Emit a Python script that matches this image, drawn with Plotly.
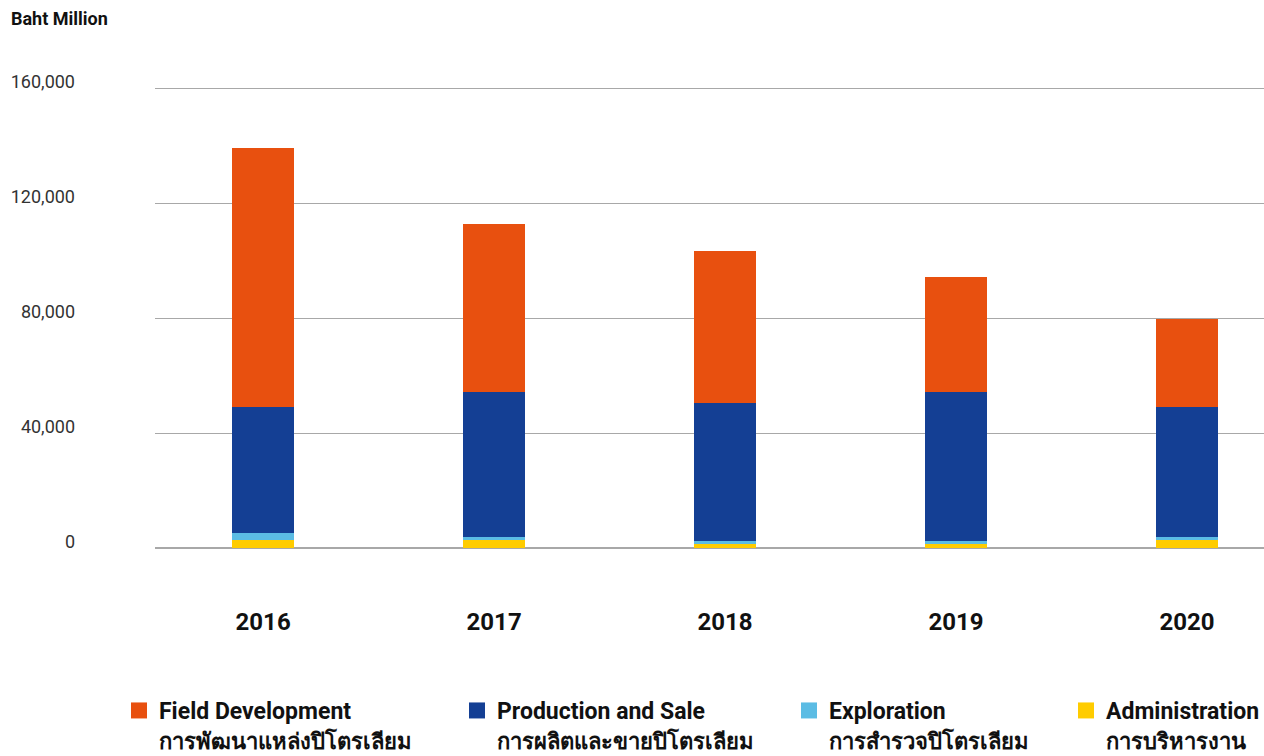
import plotly.graph_objects as go

years = ["2016", "2017", "2018", "2019", "2020"]
administration = [2800, 2800, 1500, 1500, 2800]
exploration = [2400, 1000, 900, 900, 1000]
production = [43800, 50460, 48000, 51860, 45200]
field_dev = [90100, 58440, 52900, 40000, 30650]

def lbl(en, th):
    return f"<b>{en}<br><span style='font-size:22px'>{th}</span></b>"

series = [
    (lbl("Administration", "การบริหารงาน"), administration, "#FFCC00", "legend4"),
    (lbl("Exploration", "การสำรวจปิโตรเลียม"), exploration, "#5BBCE4", "legend3"),
    (lbl("Production and Sale", "การผลิตและขายปิโตรเลียม"), production, "#143F94", "legend2"),
    (lbl("Field Development", "การพัฒนาแหล่งปิโตรเลียม"), field_dev, "#E8500F", "legend"),
]

fig = go.Figure()
for name, vals, color, lg in series:
    fig.add_trace(go.Bar(x=years, y=vals, name=name, marker_color=color,
                         marker_line_width=0, width=0.27, showlegend=False))
    # legend-only entry with a larger square swatch
    fig.add_trace(go.Scatter(x=[None], y=[None], mode="markers", name=name,
                             marker=dict(symbol="square", size=16, color=color, line_width=0),
                             legend=lg, showlegend=True, hoverinfo="skip"))

W, H = 1264, 756
L, R, T, B = 155, 0, 84, 208
pw, ph = W - L - R, H - T - B

def px2paper_x(px):
    return (px - L) / pw

def px2paper_y(py):
    return (H - B - py) / ph

legend_font = dict(family="Roboto, 'Noto Sans', sans-serif", size=23, color="#111111")
legend_common = dict(orientation="v", xanchor="left", yanchor="top", font=legend_font,
                     bgcolor="rgba(0,0,0,0)", valign="top", itemclick=False, visible=True)

LEG_TOP = 689

fig.update_layout(
    width=W, height=H,
    margin=dict(l=L, r=R, t=T, b=B, autoexpand=False),
    barmode="stack",
    showlegend=True,
    plot_bgcolor="white", paper_bgcolor="white",
    font=dict(family="Roboto, 'Noto Sans', sans-serif"),
    xaxis=dict(range=[-0.468, 4.333], showgrid=False, showline=False, ticks="",
               tickfont=dict(size=24, color="#111111", family="Roboto, sans-serif", weight="bold"),
               ticklabelstandoff=57, automargin=False),
    yaxis=dict(range=[0, 161400], tickvals=[0, 40000, 80000, 120000, 160000],
               tickformat=",", showgrid=True, gridcolor="#A8A8A8", gridwidth=1,
               zeroline=True, zerolinecolor="#A8A8A8", zerolinewidth=1.5,
               showline=False, ticks="", automargin=False,
               tickfont=dict(size=18, color="#333333", family="Roboto, sans-serif"),
               ticklabelstandoff=79, ticklabelshift=-6),
    legend=dict(x=px2paper_x(119), y=px2paper_y(LEG_TOP), **legend_common),
    legend2=dict(x=px2paper_x(457), y=px2paper_y(LEG_TOP), **legend_common),
    legend3=dict(x=px2paper_x(789), y=px2paper_y(LEG_TOP), **legend_common),
    legend4=dict(x=px2paper_x(1066), y=px2paper_y(LEG_TOP), **legend_common),
    annotations=[dict(text="<b>Baht Million</b>", xref="paper", yref="paper",
                      x=px2paper_x(9), y=px2paper_y(18), xanchor="left", yanchor="middle",
                      showarrow=False, font=dict(size=18, color="#111111", family="Roboto, sans-serif"))],
)

fig.write_html("out.html", config={"displayModeBar": False},
               post_script="document.body.style.margin='0';")
